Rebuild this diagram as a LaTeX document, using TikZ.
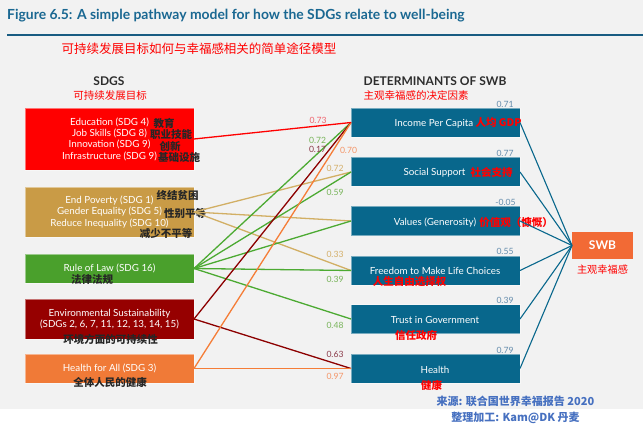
\documentclass[tikz,border=0pt]{standalone}
\usepackage{fontspec}
\setmainfont{Lato}
\newfontfamily\cjk{Noto Sans CJK SC}
\definecolor{bggray}{RGB}{242,242,242}
\definecolor{titleblue}{RGB}{26,104,146}
\definecolor{rulecol}{RGB}{24,92,130}
\definecolor{tealbox}{RGB}{8,103,140}
\definecolor{swborange}{RGB}{242,106,53}
\definecolor{sdgred}{RGB}{255,0,0}
\definecolor{sdgtan}{RGB}{201,155,70}
\definecolor{sdggreen}{RGB}{74,160,44}
\definecolor{sdgdark}{RGB}{150,0,0}
\definecolor{sdgorange}{RGB}{240,122,55}
\definecolor{lntan}{RGB}{210,175,100}
\definecolor{lngreen}{RGB}{76,170,50}
\definecolor{lndark}{RGB}{140,0,0}
\definecolor{lnorange}{RGB}{245,125,55}
\definecolor{cfred}{RGB}{240,100,110}
\definecolor{cfgreen}{RGB}{120,180,90}
\definecolor{cfdark}{RGB}{140,60,75}
\definecolor{cforange}{RGB}{244,150,105}
\definecolor{cftan}{RGB}{212,175,105}
\definecolor{cfblue}{RGB}{100,140,172}
\definecolor{srcblue}{RGB}{70,112,192}
\definecolor{hdgray}{RGB}{45,45,45}
\tikzset{
  lbox/.style={rectangle, minimum width=169pt, inner sep=0pt, outer sep=0pt, text=white, align=center,
    draw=white, draw opacity=0.45, line width=0.6pt,
    font=\fontsize{9.8}{11.3}\selectfont},
  rbox/.style={rectangle, fill=tealbox, minimum width=169pt, minimum height=29pt, inner sep=0pt, outer sep=0pt,
    text=white, font=\fontsize{9.8}{11}\selectfont},
  rframe/.style={draw=white, draw opacity=0.45, line width=0.6pt},
  cjkblk/.style={inner sep=0pt, text=black!85, font=\cjk\bfseries\fontsize{10.5}{11}\selectfont},
  cjkred/.style={inner sep=0pt, text=red, font=\cjk\bfseries\fontsize{10.5}{11}\selectfont},
  head/.style={inner sep=0pt, text=hdgray, font=\bfseries\fontsize{12}{13}\selectfont},
  coef/.style={inner sep=0pt, font=\fontsize{8.6}{9}\selectfont},
  link/.style={line width=1.3pt},
  swblink/.style={draw=tealbox, line width=1.1pt},
}
\begin{document}
\begin{tikzpicture}[x=1pt,y=-1pt]
\useasboundingbox (0,0) rectangle (643,433);
\fill[bggray] (0,0) rectangle (643,409);

% title
\node[anchor=west, inner sep=0pt, text=titleblue, font=\bfseries\fontsize{13.9}{15}\selectfont] (title) at (7,16)
  {Figure 6.5: A simple pathway model for how the SDGs relate to well-being};
\coordinate (rl) at (7,35);
\coordinate (rr) at (643,35);
\draw[rulecol, line width=1.5pt] (rl) -- (rr);
\node[inner sep=0pt, text=red, font=\cjk\fontsize{12.5}{13}\selectfont] (sub) at (199,48.5)
  {可持续发展目标如何与幸福感相关的简单途径模型};

% headers
\node[head] (hsdg) at (109,81) {SDGS};
\node[cjkred, font=\cjk\fontsize{10.5}{11}\selectfont] (hsdgc) at (110,95.5) {可持续发展目标};
\node[head] (hdet) at (435,81) {DETERMINANTS OF SWB};
\node[cjkred, font=\cjk\fontsize{10.5}{11}\selectfont] (hdetc) at (416,95.5) {主观幸福感的决定因素};

% left boxes
\node[lbox, fill=sdgred, minimum height=62pt] (b1) at (109.5,139)
  {Education (SDG 4)\\Job Skills (SDG 8)\\Innovation (SDG 9)\\Infrastructure (SDG 9)};
\node[lbox, fill=sdgtan, minimum height=50pt] (b2) at (109.5,212)
  {End Poverty (SDG 1)\\Gender Equality (SDG 5)\\Reduce Inequality (SDG 10)};
\node[lbox, fill=sdggreen, minimum height=29pt] (b3) at (109.5,268.5)
  {Rule of Law (SDG 16)};
\node[lbox, fill=sdgdark, minimum height=40pt] (b4) at (109.5,319)
  {Environmental Sustainability\\(SDGs 2, 6, 7, 11, 12, 13, 14, 15)};
\node[lbox, fill=sdgorange, minimum height=29pt] (b5) at (109.5,368.5)
  {Health for All (SDG 3)};

% left chinese labels
\node[cjkblk] (c1a) at (164,123) {教育};
\node[cjkblk] (c1b) at (171,134) {职业技能};
\node[cjkblk] (c1c) at (170,146) {创新};
\node[cjkblk] (c1d) at (179,157) {基础设施};
\node[cjkblk] (c2a) at (177.5,196) {终结贫困};
\node[cjkblk] (c2b) at (185,213) {性别平等};
\node[cjkblk] (c2c) at (166,233) {减少不平等};
\node[cjkblk] (c3) at (92,280) {法律法规};
\node[cjkblk] (c4) at (110.5,339) {环境方面的可持续性};
\node[cjkblk] (c5) at (110,382) {全体人民的健康};

% right boxes
\node[rbox, rframe] (inc) at (435.5,122.5) {};
\node[rbox, rframe] (soc) at (435.5,172) {};
\node[rbox, rframe] (val) at (435.5,221) {};
\node[rbox, rframe] (fre) at (435.5,270.5) {};
\node[rbox, rframe] (tru) at (435.5,319) {};
\node[rbox, rframe] (hea) at (435.5,368.5) {};
\node[rbox, fill=none, minimum width=0pt, minimum height=0pt] (tinc) at (434,123.3) {Income Per Capita};
\node[rbox, fill=none, minimum width=0pt, minimum height=0pt] (tsoc) at (434.5,172.7) {Social Support};
\node[rbox, fill=none, minimum width=0pt, minimum height=0pt] (tval) at (435,222.3) {Values (Generosity)};
\node[rbox, fill=none, minimum width=0pt, minimum height=0pt] (tfre) at (435,270.7) {Freedom to Make Life Choices};
\node[rbox, fill=none, minimum width=0pt, minimum height=0pt] (ttru) at (435,320) {Trust in Government};
\node[rbox, fill=none, minimum width=0pt, minimum height=0pt] (thea) at (435,370) {Health};

% right chinese labels
\node[cjkred] (rinc) at (498.5,123) {人均 GDP};
\node[cjkred] (rsoc) at (491.5,172.5) {社会支持};
\node[cjkred] (rval) at (516,222.3) {价值观（慷慨）};
\node[cjkred] (rfre) at (409.5,281.7) {人生自由选择权};
\node[cjkred] (rtru) at (416,335.7) {信任政府};
\node[cjkred] (rhea) at (431.5,385) {健康};

% SWB
\node[rectangle, fill=swborange, minimum width=61pt, minimum height=27pt, inner sep=0pt, outer sep=0pt,
  text=white, font=\bfseries\fontsize{12}{13}\selectfont] (swb) at (602.5,245.5) {SWB};
\node[cjkred, font=\cjk\fontsize{10.2}{11}\selectfont] (swbc) at (602.5,270) {主观幸福感};

% links SDG -> determinants
\draw[link, draw=lntan] (b2.east) -- (soc.west);
\draw[link, draw=lntan] (b2.east) -- (val.west);
\draw[link, draw=lntan] (b2.east) -- (fre.west);
\draw[link, draw=lngreen] (b3.east) -- (inc.west);
\draw[link, draw=lngreen] (b3.east) -- (soc.west);
\draw[link, draw=lngreen] (b3.east) -- (val.west);
\draw[link, draw=lngreen] (b3.east) -- (fre.west);
\draw[link, draw=lngreen] (b3.east) -- (tru.west);
\draw[link, draw=lndark] (b4.east) -- (inc.west);
\draw[link, draw=lndark] (b4.east) -- (hea.west);
\draw[link, draw=lnorange] (b5.east) -- (inc.west);
\draw[link, draw=lnorange] (b5.east) -- (hea.west);
\draw[link, draw=sdgred] (b1.east) -- (inc.west);

% coefficient labels
\node[coef, text=cfred] (k1) at (318,120) {0.73};
\node[coef, text=cfgreen] (k2) at (317.7,140.7) {0.72};
\node[coef, text=cfdark] (k3) at (317.5,149.3) {0.17};
\node[coef, text=cforange] (k4) at (348.5,150) {0.70};
\node[coef, text=cftan] (k5) at (335,168.3) {0.72};
\node[coef, text=cfgreen] (k6) at (335,192.3) {0.59};
\node[coef, text=cftan] (k7) at (335,254) {0.33};
\node[coef, text=cfgreen] (k8) at (335,279.3) {0.39};
\node[coef, text=cfgreen] (k9) at (335,325) {0.48};
\node[coef, text=cfdark] (k10) at (335,354.3) {0.63};
\node[coef, text=cforange] (k11) at (335,376.7) {0.97};

% links determinants -> SWB
\draw[swblink] (inc.east) -- (swb.west);
\draw[swblink] (soc.east) -- (swb.west);
\draw[swblink] (val.east) -- (swb.west);
\draw[swblink] (fre.east) -- (swb.west);
\draw[swblink] (tru.east) -- (swb.west);
\draw[swblink] (hea.east) -- (swb.west);

% determinant coefficients
\node[coef, text=cfblue] (d1) at (505,104.3) {0.71};
\node[coef, text=cfblue] (d2) at (505,153.3) {0.77};
\node[coef, text=cfblue] (d3) at (505.5,202.7) {-0.05};
\node[coef, text=cfblue] (d4) at (505,251.7) {0.55};
\node[coef, text=cfblue] (d5) at (505,300) {0.39};
\node[coef, text=cfblue] (d6) at (505,350) {0.79};

% source
\node[inner sep=0pt, text=srcblue, font=\cjk\bfseries\fontsize{11}{12}\selectfont] (src1) at (515.5,401) {来源: 联合国世界幸福报告 2020};
\node[inner sep=0pt, text=srcblue, font=\cjk\bfseries\fontsize{11}{12}\selectfont] (src2) at (515.5,418.3) {整理加工: Kam@DK 丹麦};
\end{tikzpicture}
\end{document}
